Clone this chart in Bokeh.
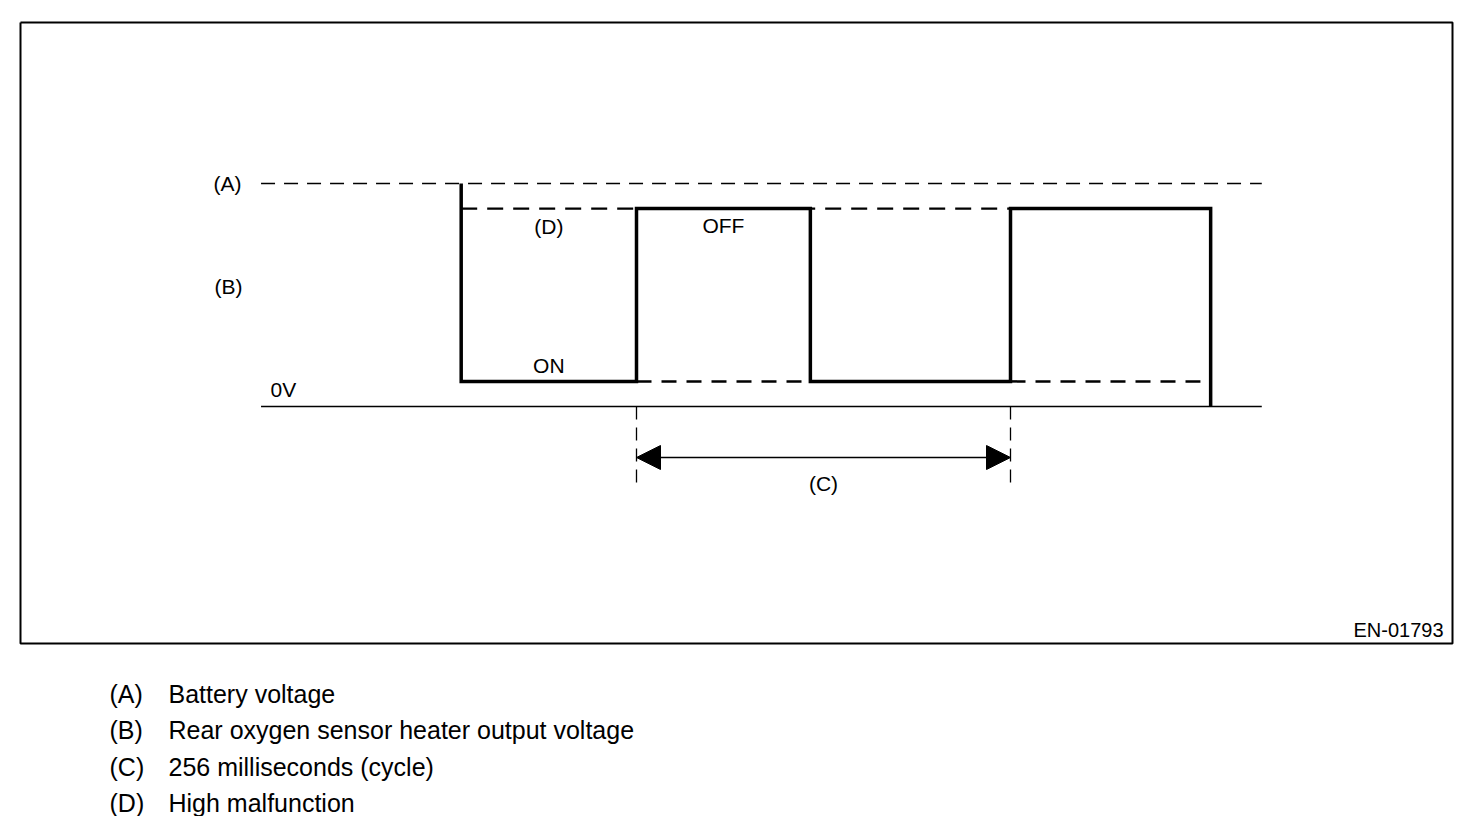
from bokeh.plotting import figure
from bokeh.models import Label, Arrow, NormalHead, Range1d
from bokeh.embed import file_html
from bokeh.resources import INLINE

# ---------------- data ----------------
cycle_ms = 256
# edge times (ms) of the heater output waveform, relative to the start of the measured cycle
edge_times = [-120, 0, 119, 256, 393]
states = ["ON", "OFF", "ON", "OFF"]
battery_v = 12.0      # (A) battery voltage level
off_level_v = 10.65   # (D) high malfunction / OFF level
on_level_v = 1.35     # ON level
zero_v = 0.0
axis_start_ms = -257
axis_end_ms = 428
on_dash_end_ms = 386

legend_keys = ["(A)", "(B)", "(C)", "(D)"]
legend_texts = ["Battery voltage", "Rear oxygen sensor heater output voltage",
                "256 milliseconds (cycle)", "High malfunction"]
figure_id = "EN-01793"

# ---------------- layout helpers (page px -> data) ----------------
K = 374 / 256      # px per ms
M = 223 / 12       # px per V
X0, Y0 = 636, 406  # page px of t=0, v=0


def tx(px):
    return (px - X0) / K


def vy(py):
    return (Y0 - py) / M


W, H = 1464, 816
p = figure(width=W, height=H, output_backend="svg", toolbar_location=None,
           x_axis_type=None, y_axis_type=None, min_border=0,
           x_range=Range1d(tx(0), tx(W)), y_range=Range1d(vy(H), vy(0)))
p.outline_line_color = None
p.grid.visible = False
p.background_fill_color = "white"
p.border_fill_color = "white"

FONT = "Liberation Sans"

# frame
fl, fr, ft, fb = tx(20), tx(1452), vy(22), vy(643)
p.line([fl, fr, fr, fl, fl], [ft, ft, fb, fb, ft], line_color="black", line_width=2)

# (A) battery voltage dashed line
p.line([axis_start_ms, axis_end_ms], [battery_v, battery_v], line_color="black",
       line_width=1.3, line_dash="14 9")
# 0V line
p.line([axis_start_ms, axis_end_ms], [zero_v, zero_v], line_color="black", line_width=1.3)

# (D) dashed line across first ON period and the second period
p.line([edge_times[0], edge_times[3]], [off_level_v, off_level_v], line_color="black",
       line_width=2.2, line_dash="16 10")
# ON level dashed during OFF periods
p.line([edge_times[1], edge_times[2]], [on_level_v, on_level_v], line_color="black",
       line_width=2.5, line_dash="15 10")
p.line([edge_times[3], on_dash_end_ms], [on_level_v, on_level_v], line_color="black",
       line_width=2.5, line_dash="15 10")

# waveform
xs = [edge_times[0]]
ys = [battery_v]
for i, st in enumerate(states):
    lvl = on_level_v if st == "ON" else off_level_v
    xs += [edge_times[i], edge_times[i + 1]]
    ys += [lvl, lvl]
xs.append(edge_times[-1])
ys.append(zero_v)
p.line(xs, ys, line_color="black", line_width=3.5, line_join="miter")

# cycle markers
marker_bottom = vy(482)
for t in (0, cycle_ms):
    p.line([t, t], [zero_v, marker_bottom], line_color="black", line_width=1.3,
           line_dash="13 8")

arrow_y = vy(457)
p.add_layout(Arrow(start=NormalHead(size=24, fill_color="black", line_color="black"),
                   end=NormalHead(size=24, fill_color="black", line_color="black"),
                   x_start=0, y_start=arrow_y, x_end=cycle_ms, y_end=arrow_y,
                   line_color="black", line_width=1.5))


def lab(x, y, text, size="21px", align="center", baseline="middle"):
    p.add_layout(Label(x=x, y=y, text=text, text_font=FONT, text_font_size=size,
                       text_align=align, text_baseline=baseline, text_color="black"))


lab(tx(227), vy(183), "(A)")
lab(tx(228), vy(286), "(B)")
lab((edge_times[0] + edge_times[1]) / 2, vy(226), "(D)")
lab((edge_times[1] + edge_times[2]) / 2, vy(225), "OFF")
lab((edge_times[0] + edge_times[1]) / 2, vy(365), "ON")
lab(tx(270), vy(389), "0V", align="left")
lab(cycle_ms / 2, vy(483), "(C)")
lab(tx(1443), vy(629), figure_id, size="20px", align="right")

leg_y = [693, 729.5, 766, 802]
for k, t, yy in zip(legend_keys, legend_texts, leg_y):
    lab(tx(109), vy(yy), k, size="25px", align="left")
    lab(tx(168), vy(yy), t, size="25px", align="left")

open("out.html", "w").write(file_html(p, INLINE))
